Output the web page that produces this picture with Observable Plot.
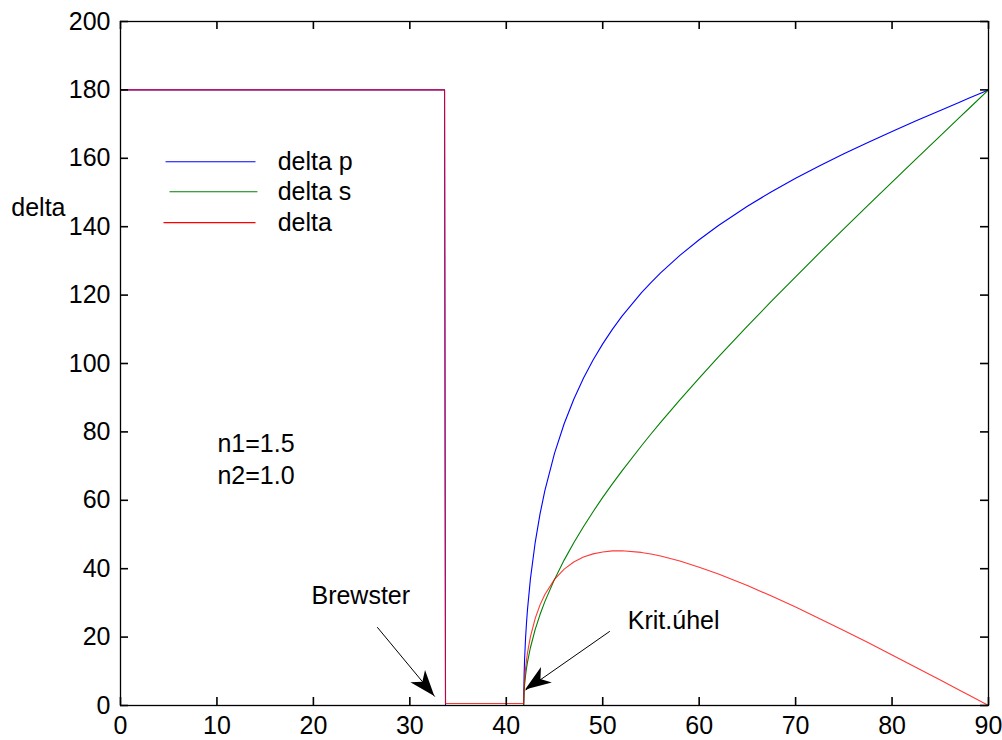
<!DOCTYPE html>
<html>
<head>
<meta charset="utf-8">
<script src="https://cdn.jsdelivr.net/npm/d3@7"></script>
<script src="https://cdn.jsdelivr.net/npm/@observablehq/plot@0.6"></script>
<style>
  html, body { margin: 0; padding: 0; background: #ffffff; }
  #chart { width: 1002px; height: 740px; position: relative; }
</style>
</head>
<body>
<div id="chart"></div>
<script>
// ---- data ----
const theta = [0, 33.6, 33.7, 41.8, 41.85, 41.9, 42, 42.1, 42.2, 42.5, 43, 43.5, 44, 45, 46, 47, 48, 49, 50, 51, 52, 54, 55, 56, 58, 60, 62, 65, 67.5, 70, 72.5, 75, 77.5, 80, 82.5, 85, 87, 88, 90];
const deltaP = [180, 180, 0, 0, 9.05, 13.60, 19.72, 24.28, 28.06, 36.94, 47.72, 56.01, 62.83, 73.74, 82.38, 89.55, 95.68, 101.01, 105.74, 109.99, 113.86, 120.64, 123.66, 126.48, 131.62, 136.18, 140.36, 145.98, 150.22, 154.15, 157.82, 161.31, 164.64, 167.85, 170.96, 174.00, 176.42, 177.61, 180];
const deltaS = [0, 0, 0, 0, 4.03, 6.07, 8.84, 10.92, 12.67, 16.89, 22.25, 26.59, 30.37, 36.87, 42.51, 47.59, 52.27, 56.67, 60.84, 64.79, 68.62, 75.88, 79.38, 82.78, 89.38, 95.74, 101.92, 110.92, 118.22, 125.36, 132.42, 139.37, 146.23, 153.06, 159.83, 166.57, 171.95, 174.63, 180];
const delta = [180, 180, 0.6, 0.6, 5.02, 7.53, 10.88, 13.36, 15.39, 20.05, 25.47, 29.42, 32.46, 36.87, 39.87, 41.96, 43.41, 44.34, 44.90, 45.20, 45.24, 44.76, 44.28, 43.70, 42.24, 40.44, 38.44, 35.06, 32.00, 28.79, 25.40, 21.94, 18.41, 14.79, 11.13, 7.43, 4.47, 2.98, 0];

const xTicks = [0, 10, 20, 30, 40, 50, 60, 70, 80, 90];
const yTicks = [0, 20, 40, 60, 80, 100, 120, 140, 160, 180, 200];

const seriesNames = ["delta p", "delta s", "delta"];
const seriesColors = ["#0000ff", "#008000", "#ff0000"];

// legend sample positions (data units)
const legendX1 = [4.67, 5.08, 4.46];
const legendX2 = [14.0, 14.2, 14.0];
const legendY = [159.0, 150.2, 141.2];
const legendTextX = 16.3;

// annotations
const noteText = ["n1=1.5", "n2=1.0"];
const noteX = [10.05, 10.05];
const noteY = [76.6, 67.0];

const annoText = ["Brewster", "Krit.úhel"];
const annoX = [19.8, 52.6];
const annoY = [31.9, 24.8];
const arrowX1 = [26.62, 50.74];
const arrowY1 = [22.9, 21.7];
const arrowX2 = [32.59, 42.0];
const arrowY2 = [2.6, 4.5];

const yLabel = "delta";
const yLabelY = 145.6;

// ---- tables built from the arrays ----
const rows = (vals, name) => theta.map((t, i) => ({theta: t, value: vals[i], series: name}));
const pRows = rows(deltaP, seriesNames[0]);
const sRows = rows(deltaS, seriesNames[1]);
const dRows = rows(delta, seriesNames[2]);
const legendRows = seriesNames.map((n, i) => ({name: n, color: seriesColors[i], x1: legendX1[i], x2: legendX2[i], y: legendY[i]}));
const noteRows = noteText.map((t, i) => ({t, x: noteX[i], y: noteY[i]}));
const annoRows = annoText.map((t, i) => ({t, x: annoX[i], y: annoY[i]}));
const arrowRows = arrowX1.map((x, i) => ({x1: x, y1: arrowY1[i], x2: arrowX2[i], y2: arrowY2[i]}));

const FONT = "Liberation Sans, Arial, Helvetica, sans-serif";
const FS = 25;
const TK = 8;
const xMin = 0, xMax = 90, yMin = 0, yMax = 200;

const plot = Plot.plot({
  width: 1002,
  height: 740,
  marginLeft: 120,
  marginRight: 14,
  marginTop: 21,
  marginBottom: 35,
  style: {fontFamily: FONT, fontSize: FS + "px", background: "#ffffff"},
  x: {domain: [xMin, xMax], label: null},
  y: {domain: [yMin, yMax], label: null},
  marks: [
    Plot.line(pRows, {x: "theta", y: "value", stroke: seriesColors[0], strokeWidth: 1.1}),
    Plot.line(sRows, {x: "theta", y: "value", stroke: seriesColors[1], strokeWidth: 1.1}),
    Plot.line(dRows, {x: "theta", y: "value", stroke: seriesColors[2], strokeWidth: 1.1, strokeOpacity: 0.78}),
    Plot.frame({stroke: "black", strokeWidth: 1.3}),
    // inward tick marks on all four sides
    Plot.ruleX(xTicks, {x: d => d, y1: yMin, y2: yMin, insetBottom: TK, stroke: "black", strokeWidth: 1.6}),
    Plot.ruleX(xTicks, {x: d => d, y1: yMax, y2: yMax, insetTop: TK, stroke: "black", strokeWidth: 1.6}),
    Plot.ruleY(yTicks, {y: d => d, x1: xMin, x2: xMin, insetLeft: TK, stroke: "black", strokeWidth: 1.6}),
    Plot.ruleY(yTicks, {y: d => d, x1: xMax, x2: xMax, insetRight: TK, stroke: "black", strokeWidth: 1.6}),
    // tick labels
    Plot.axisX({anchor: "bottom", ticks: xTicks, tickSize: 0, tickPadding: 11, fontSize: FS, fill: "black", tickFormat: d => String(d)}),
    Plot.axisY({anchor: "left", ticks: yTicks, tickSize: 0, tickPadding: 10, fontSize: FS, fill: "black", tickFormat: d => String(d)}),
    // legend (inside the axes, no box)
    Plot.link(legendRows, {x1: "x1", x2: "x2", y1: "y", y2: "y", stroke: "color", strokeWidth: 1.1}),
    Plot.text(legendRows, {x: legendTextX, y: "y", text: "name", textAnchor: "start", fontSize: FS, fill: "black"}),
    // notes
    Plot.text(noteRows, {x: "x", y: "y", text: "t", textAnchor: "start", fontSize: FS, fill: "black"}),
    Plot.text(annoRows, {x: "x", y: "y", text: "t", textAnchor: "start", fontSize: FS, fill: "black"}),
    Plot.link(arrowRows, {x1: "x1", y1: "y1", x2: "x2", y2: "y2", stroke: "black", strokeWidth: 1}),
    // y label
    Plot.text([yLabel], {frameAnchor: "left", y: yLabelY, text: d => d, textAnchor: "end", dx: -55, fontSize: FS, fill: "black"})
  ]
});

// filled arrow heads positioned with the plot's own scales
const sx = plot.scale("x"), sy = plot.scale("y");
const X = d3.scaleLinear(sx.domain, sx.range);
const Y = d3.scaleLinear(sy.domain, sy.range);
const svg = d3.select(plot.tagName.toLowerCase() === "svg" ? plot : plot.querySelector("svg"));
const L = 26, W = 9.5, N = 0.72;
arrowRows.forEach(a => {
  const x1 = X(a.x1), y1 = Y(a.y1), x2 = X(a.x2), y2 = Y(a.y2);
  const len = Math.hypot(x2 - x1, y2 - y1);
  const ux = (x2 - x1) / len, uy = (y2 - y1) / len;
  const px = -uy, py = ux;
  const bx = x2 - ux * L, by = y2 - uy * L;
  const nx = x2 - ux * L * N, ny = y2 - uy * L * N;
  const pts = [[x2, y2], [bx + px * W, by + py * W], [nx, ny], [bx - px * W, by - py * W]];
  svg.append("path")
    .attr("d", "M" + pts.map(p => p[0].toFixed(2) + "," + p[1].toFixed(2)).join("L") + "Z")
    .attr("fill", "black");
});

document.getElementById("chart").appendChild(plot);
</script>
</body>
</html>
